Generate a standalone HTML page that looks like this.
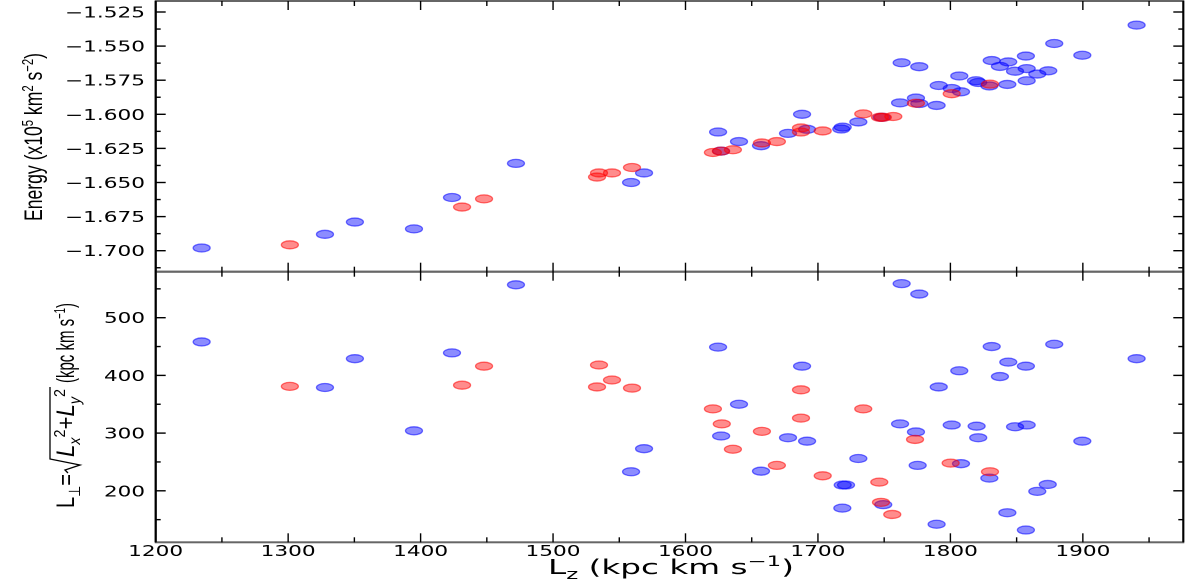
<!DOCTYPE html>
<html><head><meta charset="utf-8"><style>
html,body{margin:0;padding:0;background:#fff;}
svg{display:block;font-family:"DejaVu Sans","Liberation Sans",sans-serif;}
</style></head><body>
<svg id="chart" width="1200" height="579" viewBox="0 0 1200 579" xmlns="http://www.w3.org/2000/svg">
<g id="marks"></g>
<g id="axes"></g>
<text transform="translate(42,137) rotate(-90)" text-anchor="middle" font-family="'Liberation Sans',sans-serif" font-size="25" textLength="168" lengthAdjust="spacingAndGlyphs">Energy (x10<tspan dy="-9" font-size="16">5</tspan><tspan dy="9"> km</tspan><tspan dy="-9" font-size="16">2</tspan><tspan dy="9"> s</tspan><tspan dy="-9" font-size="16">−2</tspan><tspan dy="9">)</tspan></text>
<g transform="translate(74,407) rotate(-90)" font-family="'Liberation Sans',sans-serif" font-size="25">
<text x="-101" y="0" textLength="34" lengthAdjust="spacingAndGlyphs">L<tspan dy="6" font-size="16">⊥</tspan><tspan dy="-6">=</tspan></text>
<path d="M-66,-6 L-63,-9 L-58,6 L-52,-24 L20,-24" fill="none" stroke="#000" stroke-width="1.3"/>
<text x="-50" y="0" font-style="italic" textLength="68" lengthAdjust="spacingAndGlyphs">L<tspan dy="6" font-size="16">x</tspan><tspan dy="-15" font-size="16" font-style="normal">2</tspan><tspan dy="9" font-style="normal">+</tspan>L<tspan dy="6" font-size="16">y</tspan><tspan dy="-15" font-size="16" font-style="normal">2</tspan></text>
<text x="24" y="0" textLength="80" lengthAdjust="spacingAndGlyphs">(kpc km s<tspan dy="-9" font-size="16">−1</tspan><tspan dy="9">)</tspan></text>
</g>
<text x="548" y="574" font-size="20" textLength="246" lengthAdjust="spacingAndGlyphs">L<tspan dy="5" font-size="14">z</tspan><tspan dy="-5"> (kpc km s</tspan><tspan dy="-8" font-size="14">−1</tspan><tspan dy="8">)</tspan></text>
</svg>
<script>
// ---- data ----
const topBlueLz = [1234.7,1327.8,1350.4,1395,1423.7,1472,1558.9,1568.7,1624.6,1626.9,1640.4,1657,1677.4,1688,1691.8,1718.7,1717.6,1730.5,1748.1,1762,1763.2,1776.5,1774,1776.5,1789.6,1791.2,1801,1806.7,1808,1819.3,1821,1829.4,1831.2,1837.4,1843.7,1843,1848.8,1857,1857.6,1857.6,1865.6,1873.9,1878.4,1899.6,1940.6];
const topBlueE = [-1.698,-1.688,-1.679,-1.684,-1.661,-1.636,-1.650,-1.643,-1.613,-1.627,-1.620,-1.623,-1.614,-1.600,-1.611,-1.6094,-1.6108,-1.6056,-1.6022,-1.5916,-1.5622,-1.5651,-1.5881,-1.5921,-1.5935,-1.5789,-1.5811,-1.5719,-1.5835,-1.5754,-1.5767,-1.5792,-1.5606,-1.5649,-1.5616,-1.5781,-1.5684,-1.5573,-1.5665,-1.5754,-1.5705,-1.5681,-1.5481,-1.5567,-1.5346];
const topRedLz = [1301.3,1431.3,1447.9,1533.2,1534.7,1544.5,1559.6,1620.7,1626.7,1635.8,1657.7,1669,1687.2,1687.2,1703.6,1734.2,1746.8,1749,1756.9,1774,1801,1829.9];
const topRedE = [-1.6957,-1.668,-1.662,-1.646,-1.643,-1.643,-1.639,-1.628,-1.627,-1.626,-1.621,-1.620,-1.610,-1.613,-1.6122,-1.5997,-1.6022,-1.6022,-1.6016,-1.5919,-1.5849,-1.5779];
const botBlueLz = [1234.7,1327.8,1350.4,1395,1423.7,1472,1558.9,1568.7,1624.6,1626.9,1640.4,1657,1677.4,1688,1691.8,1763.2,1776.5,1831.2,1878.4,1940.6,1843.7,1857,1806.7,1837.4,1791.2,1762,1774,1801,1819.8,1848.8,1857.6,1821,1899.6,1730.5,1775.3,1808,1829.4,1718.7,1721.2,1873.5,1865.6,1749.3,1718.4,1843,1789.6,1857];
const botBlueL = [458,379,429,304,439,557,233,273,449,295,350,234,292,416,286,559,541,450,454,429,423,416,408,398,380,316,302,314,312,311,314,292,286,256,244,247,222,210,210,211,199,176,170,162,142,132];
const botRedLz = [1301.3,1431.3,1447.9,1533.2,1534.7,1544.5,1559.6,1620.7,1627.4,1635.8,1657.7,1669,1687.2,1687.2,1703.6,1734.2,1773.3,1800.2,1829.9,1746.3,1747.6,1756.1];
const botRedL = [381,383,416,380,418,392,378,342,316,272,303,244,375,326,226,342,289,248,233,215,180,159];
const xTicks = [1200,1300,1400,1500,1600,1700,1800,1900];
const xTickLabels = ["1200","1300","1400","1500","1600","1700","1800","1900"];
const eTicks = [-1.525,-1.55,-1.575,-1.6,-1.625,-1.65,-1.675,-1.7];
const eTickLabels = ["−1.525","−1.550","−1.575","−1.600","−1.625","−1.650","−1.675","−1.700"];
const lTicks = [200,300,400,500];
const lTickLabels = ["200","300","400","500"];

// ---- scales ----
const X0=155.7, X1=1183.3, TOP0=1, MID=271.7, BOT=542.3;
function sx(v){return 155.7+(v-1200)*1.3245;}
function sE(v){return 12+(-1.525-v)/0.025*34.1;}
function sL(v){return 317.7+(500-v)*0.577;}
const NS="http://www.w3.org/2000/svg";
function mk(tag,attrs,parent){const e=document.createElementNS(NS,tag);for(const k in attrs)e.setAttribute(k,attrs[k]);parent.appendChild(e);return e;}
const marks=document.getElementById('marks'), axes=document.getElementById('axes');

function drawPts(lz,vals,fy,col,stroke,name){
  for(let i=0;i<lz.length;i++){
    const e=mk('ellipse',{cx:sx(lz[i]),cy:fy(vals[i]),rx:8.5,ry:4,fill:col,stroke:stroke,'stroke-width':1.3},marks);
    
    
  }
}
drawPts(topBlueLz,topBlueE,sE,'rgba(0,0,255,0.45)','rgba(0,0,255,0.55)','energy-point-blue');
drawPts(topRedLz,topRedE,sE,'rgba(255,0,0,0.45)','rgba(255,0,0,0.55)','energy-point-red');
drawPts(botBlueLz,botBlueL,sL,'rgba(0,0,255,0.45)','rgba(0,0,255,0.55)','lperp-point-blue');
drawPts(botRedLz,botRedL,sL,'rgba(255,0,0,0.45)','rgba(255,0,0,0.55)','lperp-point-red');

const f1=mk('rect',{x:X0,y:TOP0,width:X1-X0,height:MID-TOP0,fill:'none',stroke:'#666','stroke-width':2},axes);


const f2=mk('rect',{x:X0,y:MID,width:X1-X0,height:BOT-MID,fill:'none',stroke:'#666','stroke-width':2},axes);


mk('line',{x1:X0,y1:TOP0,x2:X0,y2:BOT,stroke:'#000','stroke-width':2.2},axes);
mk('line',{x1:X1,y1:TOP0,x2:X1,y2:BOT,stroke:'#000','stroke-width':2},axes);

function tk(x1,y1,x2,y2){mk('line',{x1:x1,y1:y1,x2:x2,y2:y2,stroke:'#000','stroke-width':1.4},axes);}
for(let v=1200;v<=1975;v+=50){
  const x=sx(v), L=(v%100===0)?9:5;
  tk(x,TOP0,x,TOP0+L); tk(x,MID-L,x,MID+L); tk(x,BOT,x,BOT-L);
}
xTicks.forEach((v,i)=>{
  const t=mk('text',{x:sx(v),y:556,'text-anchor':'middle','font-size':15,textLength:55,lengthAdjust:'spacingAndGlyphs'},axes);
  t.textContent=xTickLabels[i];
  
  
});
for(let k=0;k<=16;k++){
  const v=-1.5125-k*0.0125, y=sE(v); if(y<TOP0+1||y>MID-1) continue;
  const L=(k%2===1)?10:5;
  tk(X0,y,X0+L,y); tk(X1,y,X1-L,y);
}
eTicks.forEach((v,i)=>{
  const t=mk('text',{x:145,y:sE(v)+5.5,'text-anchor':'end','font-size':15,textLength:80,lengthAdjust:'spacingAndGlyphs'},axes);
  t.textContent=eTickLabels[i];
  
  
});
for(let v=150;v<=550;v+=50){
  const y=sL(v), L=(v%100===0)?10:5;
  tk(X0,y,X0+L,y); tk(X1,y,X1-L,y);
}
lTicks.forEach((v,i)=>{
  const t=mk('text',{x:145,y:sL(v)+5.5,'text-anchor':'end','font-size':15,textLength:41,lengthAdjust:'spacingAndGlyphs'},axes);
  t.textContent=lTickLabels[i];
  
  
});
</script>
</body></html>
